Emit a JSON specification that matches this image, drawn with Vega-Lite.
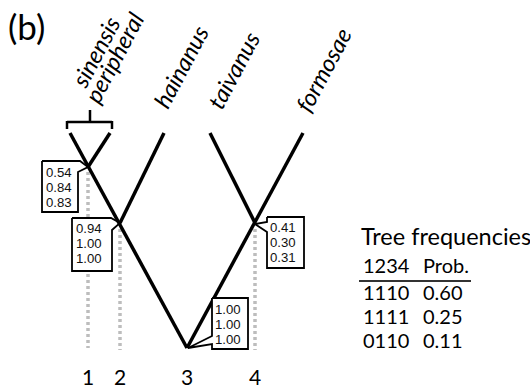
{
  "$schema": "https://vega.github.io/schema/vega-lite/v6.json",
  "width": 530,
  "height": 390,
  "autosize": {"type": "none"},
  "padding": 0,
  "background": "white",
  "config": {"view": {"stroke": null}, "text": {"font": "Lato"}},
  "datasets": {
    "branches": [
      {"taxon": "sinensis", "x": 70, "y": 133, "x2": 187, "y2": 348},
      {"taxon": "peripheral", "x": 110, "y": 133, "x2": 88, "y2": 167},
      {"taxon": "hainanus", "x": 164, "y": 133, "x2": 120, "y2": 223},
      {"taxon": "taivanus", "x": 210, "y": 133, "x2": 255, "y2": 223},
      {"taxon": "formosae", "x": 303, "y": 133, "x2": 187, "y2": 348}
    ],
    "guides": [
      {"node": "1", "x": 88, "y": 172, "y2": 348},
      {"node": "2", "x": 120, "y": 229, "y2": 350},
      {"node": "4", "x": 255, "y": 229, "y2": 350}
    ],
    "bracket": [
      {"x": 67, "y": 122, "x2": 112, "y2": 122},
      {"x": 67, "y": 121, "x2": 67, "y2": 129},
      {"x": 112, "y": 121, "x2": 112, "y2": 129},
      {"x": 90, "y": 110, "x2": 90, "y2": 122}
    ],
    "boxes": [
      {"box": "n1", "x": 42, "x2": 78, "y": 161, "y2": 212},
      {"box": "n2", "x": 72, "x2": 112, "y": 218, "y2": 271},
      {"box": "n4", "x": 267, "x2": 304, "y": 217, "y2": 268},
      {"box": "n3", "x": 212, "x2": 248, "y": 298, "y2": 349}
    ],
    "outlines": [
      {"box": "n1", "o": 0, "x": 42, "y": 161},
      {"box": "n1", "o": 1, "x": 80, "y": 161},
      {"box": "n1", "o": 2, "x": 88, "y": 167},
      {"box": "n1", "o": 3, "x": 78, "y": 172},
      {"box": "n1", "o": 4, "x": 78, "y": 212},
      {"box": "n1", "o": 5, "x": 42, "y": 212},
      {"box": "n1", "o": 6, "x": 42, "y": 161},
      {"box": "n2", "o": 0, "x": 72, "y": 218},
      {"box": "n2", "o": 1, "x": 111, "y": 218},
      {"box": "n2", "o": 2, "x": 120, "y": 223},
      {"box": "n2", "o": 3, "x": 112, "y": 230},
      {"box": "n2", "o": 4, "x": 112, "y": 271},
      {"box": "n2", "o": 5, "x": 72, "y": 271},
      {"box": "n2", "o": 6, "x": 72, "y": 218},
      {"box": "n4", "o": 0, "x": 267, "y": 217},
      {"box": "n4", "o": 1, "x": 304, "y": 217},
      {"box": "n4", "o": 2, "x": 304, "y": 268},
      {"box": "n4", "o": 3, "x": 267, "y": 268},
      {"box": "n4", "o": 4, "x": 267, "y": 232},
      {"box": "n4", "o": 5, "x": 255, "y": 224},
      {"box": "n4", "o": 6, "x": 267, "y": 222},
      {"box": "n4", "o": 7, "x": 267, "y": 217},
      {"box": "n3", "o": 0, "x": 212, "y": 298},
      {"box": "n3", "o": 1, "x": 248, "y": 298},
      {"box": "n3", "o": 2, "x": 248, "y": 349},
      {"box": "n3", "o": 3, "x": 212, "y": 349},
      {"box": "n3", "o": 4, "x": 212, "y": 344},
      {"box": "n3", "o": 5, "x": 188, "y": 348},
      {"box": "n3", "o": 6, "x": 212, "y": 336},
      {"box": "n3", "o": 7, "x": 212, "y": 298}
    ],
    "support": [
      {"node": "1", "label": "0.54\n0.84\n0.83", "x": 46, "y": 177},
      {"node": "2", "label": "0.94\n1.00\n1.00", "x": 76, "y": 233},
      {"node": "4", "label": "0.41\n0.30\n0.31", "x": 270, "y": 232},
      {"node": "3", "label": "1.00\n1.00\n1.00", "x": 215, "y": 314}
    ],
    "taxa": [
      {"label": "sinensis", "x": 86, "y": 89},
      {"label": "peripheral", "x": 99, "y": 105},
      {"label": "hainanus", "x": 168, "y": 110},
      {"label": "taivanus", "x": 222, "y": 111},
      {"label": "formosae", "x": 310, "y": 114}
    ],
    "nodes": [
      {"label": "1", "x": 88, "y": 385},
      {"label": "2", "x": 120, "y": 385},
      {"label": "3", "x": 187, "y": 385},
      {"label": "4", "x": 255, "y": 385}
    ],
    "table": [
      {"label": "1234", "x": 363, "y": 273},
      {"label": "Prob.", "x": 423, "y": 273},
      {"label": "1110", "x": 363, "y": 300},
      {"label": "0.60", "x": 423, "y": 300},
      {"label": "1111", "x": 363, "y": 324},
      {"label": "0.25", "x": 423, "y": 324},
      {"label": "0110", "x": 363, "y": 348},
      {"label": "0.11", "x": 423, "y": 348}
    ],
    "titles": [
      {"label": "Tree frequencies", "x": 361, "y": 245, "size": 23.5},
      {"label": "(b)", "x": 8, "y": 40, "size": 35}
    ],
    "rules": [
      {"x": 359, "x2": 471, "y": 281, "y2": 281}
    ]
  },
  "data": {"name": "branches"},
  "encoding": {
    "x": {"field": "x", "type": "quantitative", "scale": {"domain": [0, 530], "nice": false, "zero": false}, "axis": null},
    "y": {"field": "y", "type": "quantitative", "scale": {"domain": [0, 390], "nice": false, "zero": false, "reverse": true}, "axis": null}
  },
  "layer": [
    {
      "data": {"name": "guides"},
      "mark": {"type": "rule", "stroke": "#bdbdbd", "strokeWidth": 3.5, "strokeDash": [3, 3]},
      "encoding": {"y2": {"field": "y2"}}
    },
    {
      "data": {"name": "branches"},
      "mark": {"type": "rule", "stroke": "black", "strokeWidth": 3.5},
      "encoding": {"x2": {"field": "x2"}, "y2": {"field": "y2"}}
    },
    {
      "data": {"name": "bracket"},
      "mark": {"type": "rule", "stroke": "black", "strokeWidth": 2.5},
      "encoding": {"x2": {"field": "x2"}, "y2": {"field": "y2"}}
    },
    {
      "data": {"name": "boxes"},
      "mark": {"type": "rect", "fill": "white"},
      "encoding": {"x2": {"field": "x2"}, "y2": {"field": "y2"}}
    },
    {
      "data": {"name": "outlines"},
      "mark": {"type": "line", "stroke": "black", "strokeWidth": 1.8, "strokeJoin": "miter"},
      "encoding": {"detail": {"field": "box"}, "order": {"field": "o", "type": "quantitative"}}
    },
    {
      "data": {"name": "support"},
      "mark": {"type": "text", "align": "left", "baseline": "alphabetic", "font": "Liberation Sans", "fontSize": 13.2, "lineHeight": 15, "lineBreak": "\n", "fill": "#111"},
      "encoding": {"text": {"field": "label"}}
    },
    {
      "data": {"name": "taxa"},
      "mark": {"type": "text", "align": "left", "baseline": "alphabetic", "fontSize": 23.5, "fontStyle": "italic", "angle": -62, "fill": "black"},
      "encoding": {"text": {"field": "label"}}
    },
    {
      "data": {"name": "nodes"},
      "mark": {"type": "text", "align": "center", "baseline": "alphabetic", "fontSize": 21, "fill": "black"},
      "encoding": {"text": {"field": "label"}}
    },
    {
      "data": {"name": "table"},
      "mark": {"type": "text", "align": "left", "baseline": "alphabetic", "fontSize": 20, "fill": "black"},
      "encoding": {"text": {"field": "label"}}
    },
    {
      "data": {"name": "titles"},
      "mark": {"type": "text", "align": "left", "baseline": "alphabetic", "fill": "black"},
      "encoding": {"text": {"field": "label"}, "size": {"field": "size", "type": "quantitative", "scale": null}}
    },
    {
      "data": {"name": "rules"},
      "mark": {"type": "rule", "stroke": "#333", "strokeWidth": 1.8},
      "encoding": {"x2": {"field": "x2"}, "y2": {"field": "y2"}}
    }
  ]
}
